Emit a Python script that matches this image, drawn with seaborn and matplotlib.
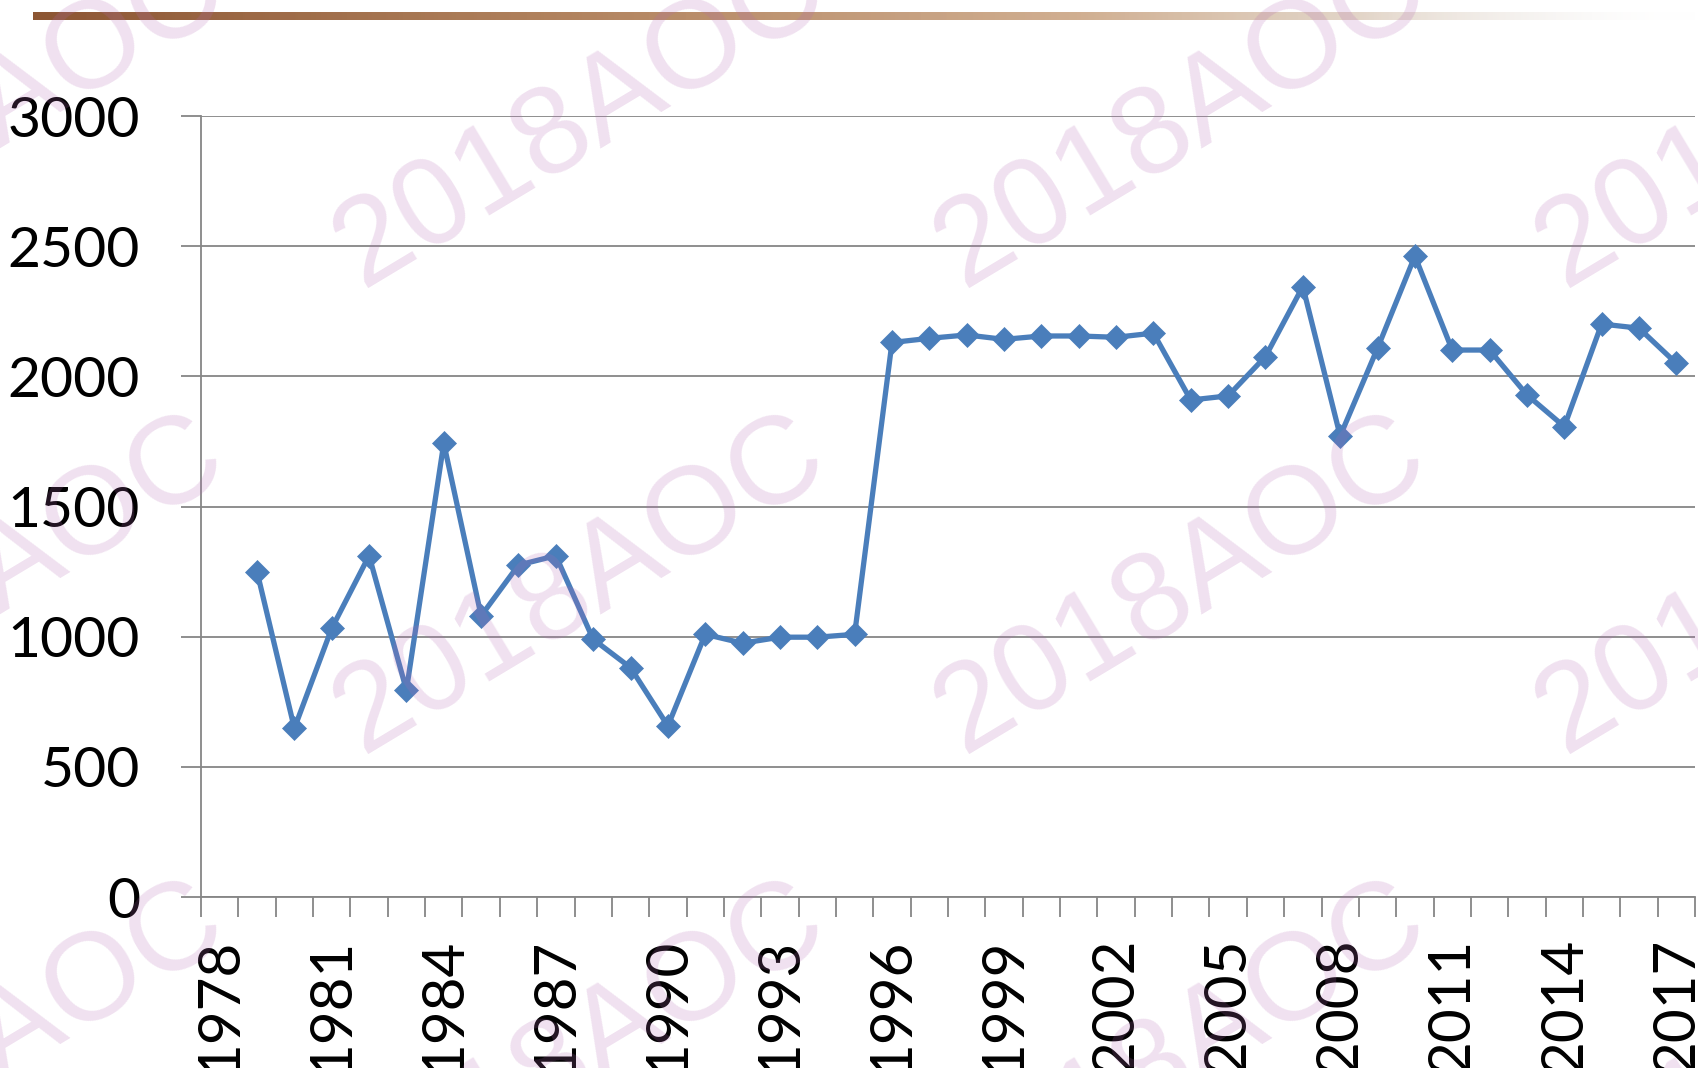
import numpy as np
import pandas as pd
import matplotlib
matplotlib.use("Agg")
import matplotlib.pyplot as plt
import seaborn as sns

# ---- data ----
categories = list(range(1978, 2018))
years = list(range(1979, 2018))
values = [1250, 648, 1032, 1311, 795, 1743, 1080, 1275, 1311, 990, 881, 657,
          1009, 975, 998, 998, 1009,
          2130, 2146, 2159, 2142, 2155, 2155, 2150, 2166, 1909, 1925, 2076,
          2345, 1771, 2108, 2462, 2101, 2101, 1929, 1807, 2201, 2185, 2050]
y_ticks = [0, 500, 1000, 1500, 2000, 2500, 3000]
x_label_years = categories[::3]
watermark = "2018AOC"

sns.set_theme(style="white")
plt.rcParams['font.family'] = ['Lato', 'DejaVu Sans']

W, H = 1698, 1068
fig = plt.figure(figsize=(W / 100, H / 100), dpi=100)
fig.patch.set_facecolor('white')

grid_c = '#868686'
line_c = '#4A7EBB'

ax = fig.add_axes([201 / W, 1 - 897 / H, (1695 - 201) / W, (897 - 116) / H])
df = pd.DataFrame({'year': years, 'value': values})
sns.lineplot(data=df, x='year', y='value', ax=ax, color=line_c, lw=3.8,
             marker='D', markersize=12, markeredgecolor=line_c,
             markeredgewidth=0.5, zorder=3, legend=False)
ax.set_xlabel('')
ax.set_ylabel('')
ax.set_xlim(categories[0] - 0.5, categories[-1] + 0.5)
ax.set_ylim(0, 3000)
ax.set_axisbelow(True)

ax.set_yticks(y_ticks)
ax.set_yticklabels([str(v) for v in y_ticks])
ax.yaxis.grid(True, color=grid_c, lw=1.3)
ax.xaxis.grid(False)
ax.tick_params(axis='y', length=14.5, width=1.3, color=grid_c, direction='out',
               pad=29.5, labelsize=41, labelcolor='black', left=True)

ax.set_xticks(np.arange(categories[0] - 0.5, categories[-1] + 1.0, 1.0))
ax.set_xticklabels([])
ax.set_xticks(x_label_years, minor=True)
ax.set_xticklabels([str(y) for y in x_label_years], minor=True,
                   rotation=90, ha='center', va='top')
ax.tick_params(axis='x', which='major', length=14.5, width=1.3, color=grid_c,
               direction='out', bottom=True)
ax.tick_params(axis='x', which='minor', length=0, pad=29, labelsize=42,
               labelcolor='black', bottom=True)

for s in ['top', 'right']:
    ax.spines[s].set_visible(False)
for s in ['left', 'bottom']:
    ax.spines[s].set_color(grid_c)
    ax.spines[s].set_linewidth(1.3)

# ---- decorative gradient bar at top ----
gax = fig.add_axes([33 / W, 1 - 20 / H, (W - 33) / W, 8 / H])
n = 600
t = np.linspace(0, 1, n)
stops_t = [0.0, 0.37, 0.63, 0.76, 0.92, 1.0]
stops_c = np.array([[140, 85, 50], [175, 125, 85], [200, 160, 125],
                    [215, 195, 175], [235, 230, 225], [255, 255, 255]]) / 255
rgba = np.ones((1, n, 4))
for k in range(3):
    rgba[0, :, k] = np.interp(t, stops_t, stops_c[:, k])
rgba[0, :, 3] = np.interp(t, [0, 0.8, 1.0], [1, 0.8, 0])
gax.imshow(rgba, aspect='auto', extent=[0, 1, 0, 1])
gax.axis('off')

# ---- watermark tiling ----
wm_x = [-239, 362, 963, 1564]
wm_y = [288, 754, 1220]
for xx in wm_x:
    for yy in wm_y:
        fig.text(xx / W, 1 - yy / H, watermark, rotation=31,
                 rotation_mode='anchor', ha='left', va='baseline',
                 fontsize=90, family=['Liberation Sans', 'DejaVu Sans'],
                 color=(180 / 255, 105 / 255, 180 / 255), alpha=0.2, zorder=10)

fig.savefig('out.png', dpi=100)
